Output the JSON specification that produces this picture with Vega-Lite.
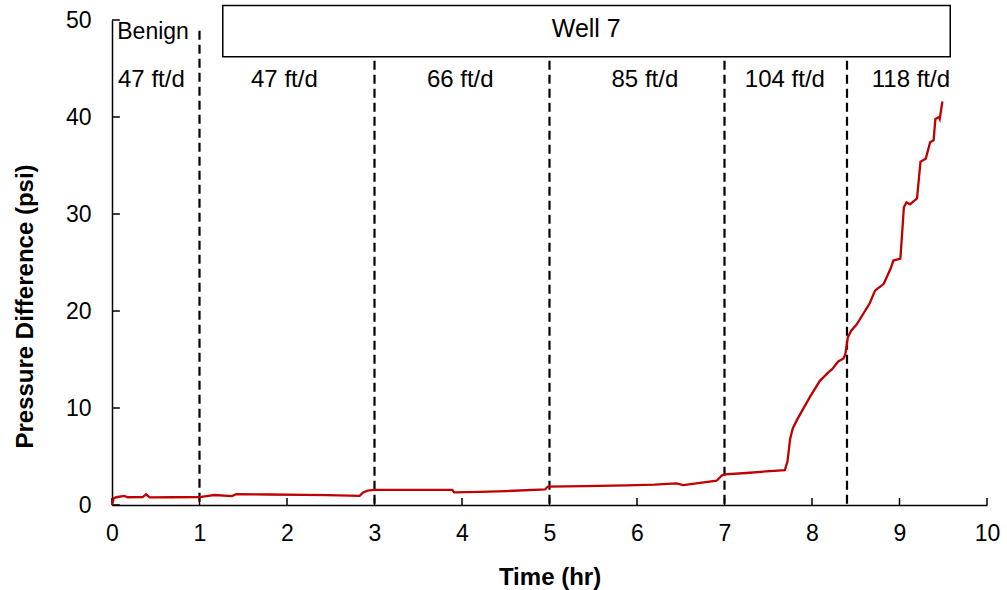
{
  "$schema": "https://vega.github.io/schema/vega-lite/v6.json",
  "autosize": {"type": "none"},
  "padding": {"left": 112, "top": 20, "right": 20, "bottom": 85},
  "width": 875,
  "height": 485,
  "background": "white",
  "config": {
    "view": {"stroke": null},
    "font": "Liberation Sans",
    "axis": {
      "grid": false,
      "ticks": false,
      "domainColor": "black",
      "domainWidth": 1.5,
      "labelColor": "black",
      "labelFont": "Liberation Sans",
      "labelFontSize": 23,
      "labelFlush": false,
      "titleColor": "black",
      "titleFont": "Liberation Sans",
      "titleFontSize": 24,
      "titleFontWeight": "bold"
    }
  },
  "datasets": {
    "pressure": [
      {"t": 0, "p": 0}, {"t": 0.02, "p": 0.7}, {"t": 0.05, "p": 0.8}, {"t": 0.14, "p": 0.93},
      {"t": 0.18, "p": 0.8}, {"t": 0.35, "p": 0.82}, {"t": 0.39, "p": 1.1}, {"t": 0.43, "p": 0.78},
      {"t": 0.7, "p": 0.8}, {"t": 1.0, "p": 0.82}, {"t": 1.1, "p": 0.95}, {"t": 1.17, "p": 1.03},
      {"t": 1.37, "p": 0.92}, {"t": 1.42, "p": 1.12}, {"t": 1.8, "p": 1.08}, {"t": 2.2, "p": 1.05},
      {"t": 2.46, "p": 1.02}, {"t": 2.83, "p": 0.95}, {"t": 2.87, "p": 1.3}, {"t": 2.92, "p": 1.48},
      {"t": 3.0, "p": 1.55}, {"t": 3.5, "p": 1.55}, {"t": 3.89, "p": 1.55}, {"t": 3.91, "p": 1.3},
      {"t": 4.2, "p": 1.36}, {"t": 4.51, "p": 1.44}, {"t": 4.95, "p": 1.6}, {"t": 4.98, "p": 1.9},
      {"t": 5.4, "p": 1.95}, {"t": 5.88, "p": 2.03}, {"t": 6.2, "p": 2.1}, {"t": 6.45, "p": 2.23},
      {"t": 6.53, "p": 2.06}, {"t": 6.7, "p": 2.25}, {"t": 6.91, "p": 2.5}, {"t": 6.97, "p": 3.05},
      {"t": 7.0, "p": 3.15}, {"t": 7.25, "p": 3.3}, {"t": 7.52, "p": 3.5}, {"t": 7.69, "p": 3.6},
      {"t": 7.72, "p": 4.5}, {"t": 7.75, "p": 6.8}, {"t": 7.78, "p": 7.9}, {"t": 7.83, "p": 8.8},
      {"t": 7.98, "p": 11.2}, {"t": 8.09, "p": 12.8}, {"t": 8.19, "p": 13.7}, {"t": 8.23, "p": 14.0},
      {"t": 8.3, "p": 14.8}, {"t": 8.36, "p": 15.1}, {"t": 8.38, "p": 15.5}, {"t": 8.41, "p": 17.3},
      {"t": 8.45, "p": 18.0}, {"t": 8.51, "p": 18.6}, {"t": 8.66, "p": 20.8}, {"t": 8.72, "p": 22.1},
      {"t": 8.82, "p": 22.8}, {"t": 8.9, "p": 24.4}, {"t": 8.93, "p": 25.2}, {"t": 9.01, "p": 25.4},
      {"t": 9.03, "p": 28}, {"t": 9.05, "p": 30.7}, {"t": 9.08, "p": 31.2}, {"t": 9.12, "p": 31.0},
      {"t": 9.2, "p": 31.6}, {"t": 9.24, "p": 35.4}, {"t": 9.3, "p": 35.7}, {"t": 9.35, "p": 37.4},
      {"t": 9.39, "p": 37.6}, {"t": 9.41, "p": 39.8}, {"t": 9.45, "p": 40.0}, {"t": 9.46, "p": 39.8},
      {"t": 9.49, "p": 41.6}
    ],
    "dividers": [
      {"t": 1, "top": 48.9}, {"t": 3, "top": 45.8}, {"t": 5, "top": 45.8},
      {"t": 7, "top": 45.8}, {"t": 8.4, "top": 45.8}
    ],
    "xticks": [
      {"t": 0}, {"t": 1}, {"t": 2}, {"t": 3}, {"t": 4}, {"t": 5},
      {"t": 6}, {"t": 7}, {"t": 8}, {"t": 9}, {"t": 10}
    ],
    "yticks": [{"p": 0}, {"p": 10}, {"p": 20}, {"p": 30}, {"p": 40}, {"p": 50}],
    "labels": [
      {"t": 5.42, "p": 49.1, "label": "Well 7", "size": 25},
      {"t": 0.45, "p": 43.8, "label": "47 ft/d", "size": 24},
      {"t": 1.97, "p": 43.8, "label": "47 ft/d", "size": 24},
      {"t": 3.98, "p": 43.8, "label": "66 ft/d", "size": 24},
      {"t": 6.09, "p": 43.8, "label": "85 ft/d", "size": 24},
      {"t": 7.69, "p": 43.8, "label": "104 ft/d", "size": 24},
      {"t": 9.13, "p": 43.8, "label": "118 ft/d", "size": 24}
    ],
    "benign": [{"t": 0.06, "p": 48.8, "label": "Benign"}],
    "box": [{"t": 1.266, "t2": 9.58, "p": 46.2, "p2": 51.5}]
  },
  "layer": [
    {
      "data": {"name": "box"},
      "mark": {"type": "rect", "fill": "white", "stroke": "black", "strokeWidth": 1.5, "clip": false},
      "encoding": {
        "x": {"field": "t", "type": "quantitative", "scale": {"domain": [0, 10]},
          "axis": {"values": [0, 1, 2, 3, 4, 5, 6, 7, 8, 9, 10], "format": "d", "title": "Time (hr)",
            "labelPadding": 17, "titleY": 79, "titleBaseline": "alphabetic"}},
        "x2": {"field": "t2"},
        "y": {"field": "p", "type": "quantitative", "scale": {"domain": [0, 50]},
          "axis": {"values": [0, 10, 20, 30, 40, 50], "format": "d", "title": "Pressure Difference (psi)",
            "labelPadding": 21, "titleX": -80, "titleY": 286, "titleBaseline": "alphabetic"}},
        "y2": {"field": "p2"}
      }
    },
    {
      "data": {"name": "xticks"},
      "mark": {"type": "rule", "color": "black", "strokeWidth": 1.5},
      "encoding": {
        "x": {"field": "t", "type": "quantitative"},
        "y": {"datum": 0},
        "y2": {"datum": 0.72}
      }
    },
    {
      "data": {"name": "yticks"},
      "mark": {"type": "rule", "color": "black", "strokeWidth": 1.5},
      "encoding": {
        "y": {"field": "p", "type": "quantitative"},
        "x": {"datum": 0},
        "x2": {"datum": 0.09}
      }
    },
    {
      "data": {"name": "dividers"},
      "mark": {"type": "rule", "color": "black", "strokeWidth": 2.2, "strokeDash": [9, 5]},
      "encoding": {
        "x": {"field": "t", "type": "quantitative"},
        "y": {"field": "top", "type": "quantitative"},
        "y2": {"datum": 0}
      }
    },
    {
      "data": {"name": "pressure"},
      "mark": {"type": "line", "color": "#C00000", "strokeWidth": 2.3},
      "encoding": {
        "x": {"field": "t", "type": "quantitative"},
        "y": {"field": "p", "type": "quantitative"}
      }
    },
    {
      "data": {"name": "labels"},
      "mark": {"type": "text", "color": "black", "baseline": "middle", "align": "center", "font": "Liberation Sans"},
      "encoding": {
        "x": {"field": "t", "type": "quantitative"},
        "y": {"field": "p", "type": "quantitative"},
        "text": {"field": "label"},
        "size": {"field": "size", "type": "quantitative", "scale": null}
      }
    },
    {
      "data": {"name": "benign"},
      "mark": {"type": "text", "color": "black", "baseline": "middle", "align": "left", "fontSize": 23, "font": "Liberation Sans"},
      "encoding": {
        "x": {"field": "t", "type": "quantitative"},
        "y": {"field": "p", "type": "quantitative"},
        "text": {"field": "label"}
      }
    }
  ]
}
